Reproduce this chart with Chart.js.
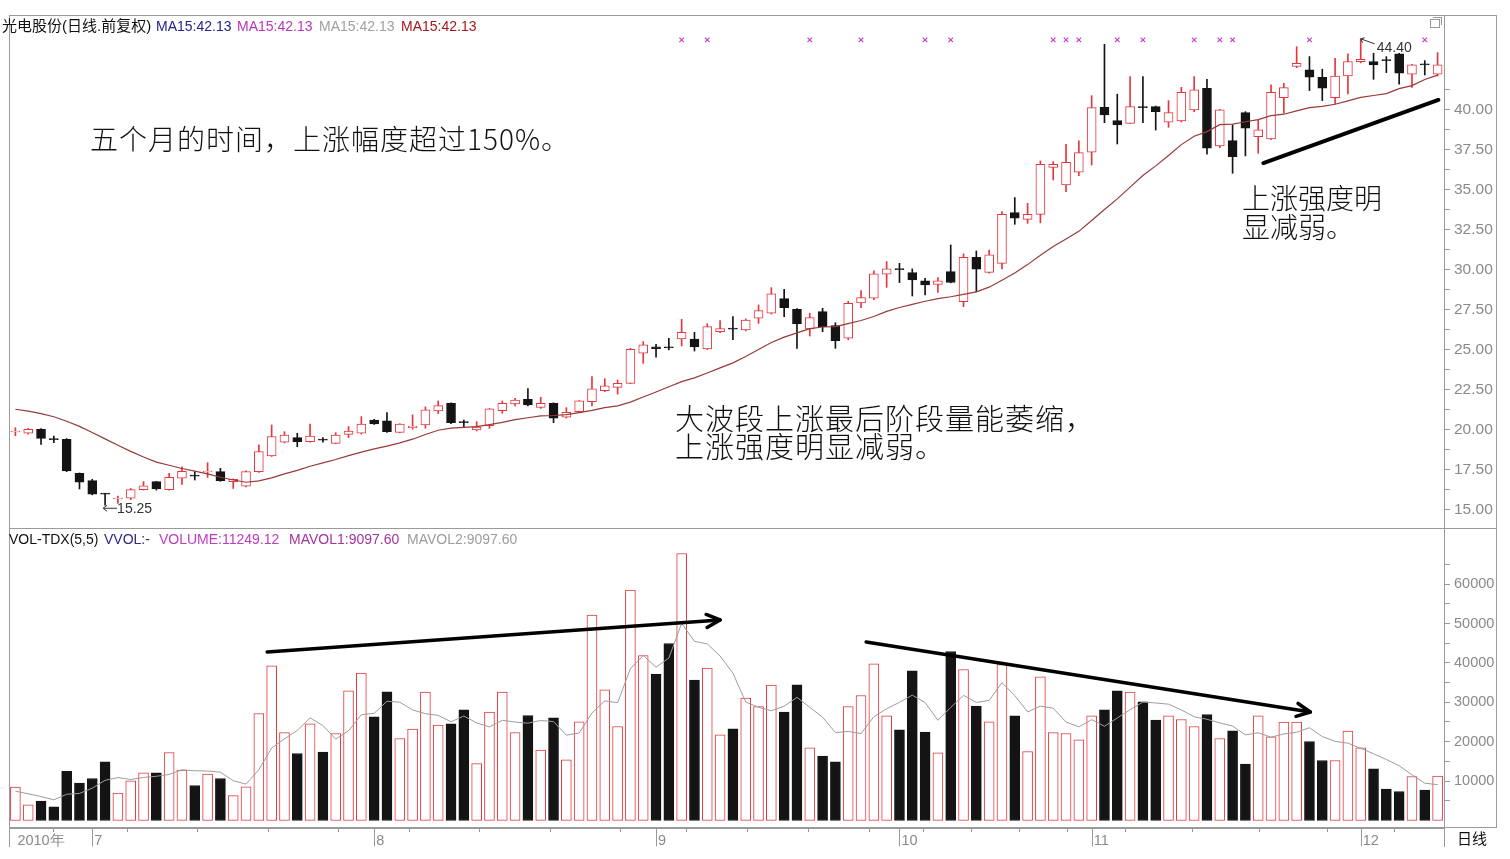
<!DOCTYPE html>
<html><head><meta charset="utf-8">
<script src="https://cdn.jsdelivr.net/npm/chart.js@4.4.1/dist/chart.umd.min.js"></script>
<style>
html,body{margin:0;padding:0;background:#fff;width:1510px;height:859px;overflow:hidden;}
#wrap{position:relative;width:1510px;height:859px;}
canvas{position:absolute;left:0;top:0;}
.t{position:absolute;white-space:nowrap;font-family:"Liberation Sans","Noto Sans CJK SC",sans-serif;}
.ln{position:absolute;background:#9a9a9a;}
.big{font-family:"Noto Sans CJK SC",sans-serif;font-weight:300;color:#111;font-size:28px;line-height:28px;}
</style></head><body>
<div id="wrap">
<div class="ln" style="left:9px;top:15px;width:1488px;height:1px"></div>
<div class="ln" style="left:9px;top:15px;width:1px;height:832px"></div>
<div class="ln" style="left:1496px;top:15px;width:1px;height:813px"></div>
<div class="ln" style="left:9px;top:528px;width:1488px;height:1px"></div>
<div class="ln" style="left:9px;top:827px;width:1488px;height:1px"></div>
<div class="ln" style="left:1444px;top:827px;width:1px;height:20px"></div>
<div style="position:absolute;left:1430px;top:19px;width:8px;height:7px;border:1px solid #999;"></div>
<div style="position:absolute;left:1433px;top:17px;width:8px;height:7px;border-top:1px solid #999;border-right:1px solid #999;"></div>
<canvas id="cp" width="1510" height="859"></canvas>
<canvas id="cv" width="1510" height="859"></canvas>
<div class="t" style="left:2px;top:17px;font-size:15px;line-height:17px;color:#111">光电股份(日线.前复权)</div>
<div class="t" style="left:156px;top:18px;font-size:14px;line-height:16px;color:#23238a">MA15:42.13</div>
<div class="t" style="left:237px;top:18px;font-size:14px;line-height:16px;color:#b835b8">MA15:42.13</div>
<div class="t" style="left:319px;top:18px;font-size:14px;line-height:16px;color:#a0a0a0">MA15:42.13</div>
<div class="t" style="left:401px;top:18px;font-size:14px;line-height:16px;color:#a3181c">MA15:42.13</div>
<div class="t" style="left:9px;top:531px;font-size:14px;line-height:16px;color:#111">VOL-TDX(5,5)</div>
<div class="t" style="left:104px;top:531px;font-size:14px;line-height:16px;color:#2a2a80">VVOL:-</div>
<div class="t" style="left:159px;top:531px;font-size:14px;line-height:16px;color:#c03cc0">VOLUME:11249.12</div>
<div class="t" style="left:289px;top:531px;font-size:14px;line-height:16px;color:#a4349e">MAVOL1:9097.60</div>
<div class="t" style="left:407px;top:531px;font-size:14px;line-height:16px;color:#9c9c9c">MAVOL2:9097.60</div>
<div class="t" style="left:1457px;top:830px;font-size:15px;line-height:17px;color:#111">日线</div>
<div class="t big" style="left:90px;top:124px;letter-spacing:1px;">五个月的时间，上涨幅度超过150%。</div>
<div class="t big" style="left:675px;top:403px;font-size:29px;letter-spacing:1px;">大波段上涨最后阶段量能萎缩，<br>上涨强度明显减弱。</div>
<div class="t big" style="left:1242px;top:183px;line-height:29px;">上涨强度明<br>显减弱。</div>
</div>
<script>
// ---------- data ----------
const open  = [19.83,19.75,20.00,19.39,19.37,17.25,16.79,15.98,15.64,15.69,16.23,16.73,16.23,16.94,17.10,17.33,17.35,16.73,16.44,17.35,
  18.33,19.19,19.48,19.23,19.35,19.12,19.68,19.75,20.58,20.52,19.80,20.10,20.27,21.14,21.62,20.45,19.96,20.23,21.17,21.58,
  21.87,21.37,21.62,20.75,21.10,21.73,22.41,22.62,22.87,24.75,25.16,25.12,25.64,25.64,25.02,26.10,26.29,26.21,26.94,27.25,
  28.16,27.50,26.27,27.35,26.48,25.69,27.90,28.19,29.69,30.02,29.79,29.27,29.06,29.85,27.98,30.75,29.81,30.37,33.54,33.12,
  33.43,36.37,35.27,36.06,37.31,40.12,39.29,39.12,40.15,40.16,39.19,39.27,39.96,41.31,37.71,38.04,39.79,38.29,38.14,40.73,
  42.67,42.46,42.00,40.73,42.08,42.98,42.98,43.08,43.46,42.19,42.80,42.19];
const high  = [20.10,20.05,20.05,19.58,19.42,17.27,16.87,16.00,15.83,16.30,16.73,16.75,17.25,17.66,17.35,17.91,17.56,16.90,17.40,19.02,
  20.27,19.85,19.75,20.33,19.48,19.79,20.17,20.79,20.62,21.04,20.35,20.90,21.40,21.77,21.65,20.58,20.48,21.30,21.77,21.94,
  22.54,22.00,21.65,21.35,21.80,23.29,23.16,23.08,25.06,25.48,25.31,25.68,26.87,26.06,26.60,26.79,27.04,26.90,27.77,28.85,
  28.75,27.55,27.25,27.56,26.66,28.00,28.66,29.90,30.48,30.37,30.02,29.44,29.48,31.52,30.96,31.14,31.20,33.60,34.48,34.12,
  36.77,36.73,37.81,38.02,40.85,44.06,40.94,42.04,42.04,40.20,40.54,41.37,42.04,41.87,40.00,39.02,39.85,39.33,41.52,41.62,
  43.91,43.29,42.50,43.18,43.46,44.40,43.50,43.29,43.50,42.80,43.04,43.54];
const low   = [19.60,19.70,19.06,19.16,17.35,16.27,15.90,15.25,15.37,15.60,16.20,16.20,16.20,16.56,16.83,16.99,16.75,16.30,16.40,17.30,
  18.30,19.15,18.91,19.20,19.19,19.10,19.48,19.70,20.30,19.80,19.78,20.00,20.06,20.98,20.35,20.16,19.90,20.06,21.00,21.46,
  21.46,21.30,20.41,20.70,21.05,21.46,22.35,22.20,22.85,24.12,24.50,24.96,25.21,24.89,24.98,26.04,25.60,26.15,26.62,27.20,
  27.04,25.06,25.83,26.10,25.06,25.60,27.60,28.10,28.87,29.17,28.33,28.40,28.56,29.15,27.66,28.60,29.75,30.02,32.81,32.87,
  32.90,35.58,34.85,35.85,36.52,39.16,37.83,39.10,39.16,38.70,38.87,39.20,39.85,37.19,37.60,36.00,37.08,37.25,38.10,39.75,
  42.60,41.17,40.54,40.33,40.96,42.90,41.87,42.29,41.56,41.37,42.14,42.08];
const close = [19.85,20.00,19.43,19.35,17.39,16.69,15.94,15.95,15.66,16.23,16.46,16.27,17.00,17.37,17.07,17.35,16.79,16.87,17.35,18.60,
  19.54,19.64,19.23,19.58,19.32,19.64,19.89,20.33,20.33,19.85,20.33,20.20,21.21,21.48,20.41,20.42,20.14,21.27,21.62,21.83,
  21.52,21.62,20.69,21.06,21.77,22.52,22.71,22.87,25.00,25.27,25.04,25.09,26.06,25.14,26.41,26.29,26.26,26.83,27.41,28.46,
  27.60,26.58,26.98,26.41,25.54,27.87,28.23,29.71,30.02,29.98,29.33,29.02,29.27,29.17,30.75,30.00,30.90,33.44,33.19,33.43,
  36.56,36.56,36.69,37.29,40.10,39.64,39.02,40.16,40.10,39.85,39.79,41.06,41.21,37.56,39.96,37.04,38.81,38.71,41.06,41.35,
  42.87,42.00,41.31,42.08,42.98,43.12,42.77,43.04,42.25,42.77,42.77,42.77];
const volume = [8460,3980,4900,3470,12500,9480,10660,14890,6940,10070,12100,12100,17260,12780,8880,11760,10660,6350,8540,27160,
  39260,22340,17000,24530,17340,22080,32910,37390,26310,32660,20810,23180,32570,24200,24530,28090,14470,27500,32570,22340,
  26650,17850,26060,15400,25040,52110,33160,23860,58460,41880,37140,44920,67770,35620,38660,21740,23270,31050,28930,34350,
  27500,34430,18440,16330,14890,28930,31730,39760,26570,23010,37990,22420,17170,42890,38320,29020,25040,39600,26570,17510,
  36460,22340,22080,20470,26570,28090,32910,32570,30120,25470,26570,25630,23860,26900,20810,22760,14300,26570,21240,24960,
  24960,20050,15230,15230,22670,18440,13110,7950,7360,11170,7700,11249];
const ma15 = [21.25,21.13,20.98,20.78,20.50,20.18,19.80,19.40,19.00,18.62,18.27,17.95,17.75,17.55,17.38,17.21,17.00,16.83,16.69,16.77,
  16.96,17.21,17.43,17.69,17.90,18.11,18.35,18.57,18.77,18.95,19.15,19.38,19.67,19.94,20.07,20.12,20.16,20.29,20.43,20.60,
  20.72,20.84,20.86,20.91,21.04,21.18,21.35,21.46,21.70,22.02,22.33,22.66,22.98,23.21,23.52,23.84,24.15,24.55,24.98,25.42,
  25.76,26.02,26.29,26.39,26.41,26.60,26.80,27.05,27.37,27.61,27.81,28.00,28.16,28.28,28.43,28.59,28.88,29.31,29.76,30.29,
  30.87,31.42,31.89,32.37,33.05,33.73,34.40,35.13,35.86,36.46,37.11,37.79,38.31,38.60,39.04,39.07,39.22,39.35,39.60,39.69,
  39.90,40.10,40.18,40.31,40.52,40.74,40.86,40.98,41.29,41.48,41.86,42.13];
const volMa5 = [7450,6770,6090,5250,6662,6866,8202,10200,10894,10408,10932,11220,11694,12862,12624,12556,12268,10086,9238,12894,
  18394,20730,22860,26058,24094,20658,22772,26850,27206,30270,30016,28070,27106,26684,25058,26514,24772,23758,25432,24994,
  24706,25382,25094,21660,22200,27292,30354,29914,38526,41894,38900,41252,50034,45466,44822,41742,37412,30068,28730,27868,
  29020,31252,28730,26210,22318,22604,22064,26328,28376,30000,31812,29950,25432,28696,31758,29964,30488,34974,31710,27548,
  29036,28496,24992,23772,25584,23910,26024,28122,30052,29832,29528,28072,26330,25686,24754,23992,21726,22268,21136,21966,
  22406,23556,21288,20086,19628,18324,16936,15480,13906,11606,9458,9098];
const markerIdx = [52,54,62,66,71,73,81,82,83,86,88,92,94,95,101,110];
const priceTicks = [15,17.5,20,22.5,25,27.5,30,32.5,35,37.5,40];
const volTicks = [10000,20000,30000,40000,50000,60000];
const monthStart = [0,6,28,50,69,84,105];
const monthLabels = ['2010年','7','8','9','10','11','12'];
// annotation anchors in data space [index, value]
const trendPrice = [[97.4,36.64],[111.06,40.58]];
const volArrowUp = [[19.65,42770],[55.0,50890]];
const volArrowDown = [[66.4,45300],[101.07,27540]];

// ---------- styling ----------
const RED = '#e2383d', BLK = '#141414', AX = '#9a9a9a', LBL = '#8a8a8a';
const FONT = '"Liberation Sans", Arial, sans-serif';
const idx = close.map((_, i) => i);
const up = close.map((c, i) => c >= open[i]);

function drawArrow(ctx, x1, y1, x2, y2, lw, head) {
  ctx.lineWidth = lw; ctx.lineCap = 'round'; ctx.lineJoin = 'round'; ctx.strokeStyle = '#000';
  ctx.beginPath(); ctx.moveTo(x1, y1); ctx.lineTo(x2, y2); ctx.stroke();
  if (head) {
    const a = Math.atan2(y2 - y1, x2 - x1), L = 15;
    ctx.beginPath();
    ctx.moveTo(x2 - L * Math.cos(a - 0.45), y2 - L * Math.sin(a - 0.45));
    ctx.lineTo(x2, y2);
    ctx.lineTo(x2 - L * Math.cos(a + 0.45), y2 - L * Math.sin(a + 0.45));
    ctx.stroke();
  }
}

const pricePlugin = {
  id: 'priceAnno',
  afterDatasetsDraw(chart) {
    const { ctx, scales: { x, y } } = chart;
    ctx.save();
    drawArrow(ctx, x.getPixelForValue(trendPrice[0][0]), y.getPixelForValue(trendPrice[0][1]),
      x.getPixelForValue(trendPrice[1][0]), y.getPixelForValue(trendPrice[1][1]), 4, false);
    const li = low.indexOf(Math.min(...low));
    const lx = x.getPixelForValue(li), ly = y.getPixelForValue(low[li]) + 3;
    ctx.strokeStyle = '#333'; ctx.lineWidth = 1; ctx.lineCap = 'butt';
    ctx.beginPath(); ctx.moveTo(lx - 2, ly); ctx.lineTo(lx + 12, ly);
    ctx.moveTo(lx + 2, ly - 3); ctx.lineTo(lx - 2, ly); ctx.lineTo(lx + 2, ly + 3); ctx.stroke();
    ctx.fillStyle = '#333'; ctx.font = '14px ' + FONT; ctx.textBaseline = 'middle'; ctx.textAlign = 'left';
    ctx.fillText(low[li].toFixed(2), lx + 12, ly + 1);
    const hi = high.indexOf(Math.max(...high));
    const hx = x.getPixelForValue(hi), hy = y.getPixelForValue(high[hi]);
    ctx.beginPath(); ctx.moveTo(hx, hy); ctx.lineTo(hx + 14, hy + 5);
    ctx.moveTo(hx + 4, hy - 1); ctx.lineTo(hx, hy); ctx.lineTo(hx + 2, hy + 4); ctx.stroke();
    ctx.fillText(high[hi].toFixed(2), hx + 16, hy + 9);
    ctx.restore();
  }
};

const volPlugin = {
  id: 'volAnno',
  afterDatasetsDraw(chart) {
    const { ctx, scales: { x, y }, chartArea } = chart;
    ctx.save();
    for (const ar of [volArrowUp, volArrowDown]) {
      drawArrow(ctx, x.getPixelForValue(ar[0][0]), y.getPixelForValue(ar[0][1]),
        x.getPixelForValue(ar[1][0]), y.getPixelForValue(ar[1][1]), 3.5, true);
    }
    ctx.strokeStyle = AX; ctx.lineWidth = 1;
    for (let k = 1; k < monthStart.length; k++) {
      const px = Math.round(x.getPixelForValue(monthStart[k])) + 0.5;
      ctx.beginPath(); ctx.moveTo(px, chartArea.bottom); ctx.lineTo(px, chartArea.bottom + 18); ctx.stroke();
    }
    ctx.restore();
  }
};

const commonX = { type: 'linear', min: -0.5, max: 111.5, offset: false, grid: { offset: false } };

new Chart(document.getElementById('cp'), {
  type: 'bar',
  data: { datasets: [
    { type: 'line', data: idx.map(i => ({ x: i, y: ma15[i] })), borderColor: '#983a3a', borderWidth: 1.2,
      pointRadius: 0, tension: 0, order: 0 },
    { type: 'line', showLine: false, data: markerIdx.map(i => ({ x: i, y: 44.33 })), pointStyle: 'crossRot',
      pointRadius: 3.2, pointBorderColor: '#c23bc2', pointBorderWidth: 1.1, order: 1 },
    { type: 'bar', data: idx.map(i => ({ x: i, y: [Math.min(open[i], close[i]), Math.max(open[i], close[i])] })),
      backgroundColor: up.map(u => u ? '#ffffff' : BLK), borderColor: up.map(u => u ? RED : BLK),
      borderWidth: 1, borderSkipped: false, barThickness: 9, minBarLength: 1, grouped: false, order: 2 },
    { type: 'bar', data: idx.map(i => ({ x: i, y: [low[i], high[i]] })),
      backgroundColor: up.map(u => u ? RED : BLK), borderWidth: 0, barThickness: 1, grouped: false, order: 3 }
  ] },
  options: {
    responsive: false, animation: false, events: [],
    layout: { padding: { top: 15, left: 9, right: 0, bottom: 331 } },
    plugins: { legend: { display: false }, tooltip: { enabled: false } },
    scales: {
      x: Object.assign({}, commonX, { display: false }),
      y: {
        position: 'right', min: 13.83, max: 45.89,
        afterFit(s) { s.width = 66; s.paddingTop = 0; s.paddingBottom = 0; },
        afterBuildTicks(s) {
          const t = [];
          for (let k = 0; k < priceTicks.length; k++) {
            t.push({ value: priceTicks[k] });
            t.push({ value: priceTicks[k] + 1.25 });
          }
          s.ticks = t;
        },
        grid: { drawOnChartArea: false, tickLength: 6, color: AX, tickColor: AX },
        border: { color: AX },
        ticks: { padding: 4, color: LBL, font: { family: FONT, size: 15.5 },
          callback: v => priceTicks.some(p => Math.abs(p - v) < 1e-6) ? v.toFixed(2) : '' }
      }
    }
  },
  plugins: [pricePlugin]
});

new Chart(document.getElementById('cv'), {
  type: 'bar',
  data: { datasets: [
    { type: 'line', data: idx.map(i => ({ x: i, y: volMa5[i] })), borderColor: '#9c9c9c', borderWidth: 1,
      pointRadius: 0, tension: 0, order: 0 },
    { type: 'bar', data: idx.map(i => ({ x: i, y: volume[i] })),
      backgroundColor: up.map(u => u ? '#ffffff' : BLK), borderColor: up.map(u => u ? RED : BLK),
      borderWidth: 1, borderSkipped: false, barThickness: 10, grouped: false, order: 1 }
  ] },
  options: {
    responsive: false, animation: false, events: [],
    layout: { padding: { top: 529, left: 9, right: 0, bottom: 0 } },
    plugins: { legend: { display: false }, tooltip: { enabled: false } },
    scales: {
      x: Object.assign({}, commonX, {
        position: 'bottom',
        afterFit(s) { s.height = 31; s.paddingLeft = 0; s.paddingRight = 0; },
        afterBuildTicks(s) {
          const t = [];
          for (let k = 0; k < monthStart.length; k++) {
            t.push({ value: monthStart[k] });
            if (k > 0 && k < monthStart.length - 1) {
              const a = monthStart[k], b = monthStart[k + 1];
              for (let q = 1; q < 4; q++) t.push({ value: a + (b - a) * q / 4 });
            }
          }
          t.sort((p, q) => p.value - q.value);
          s.ticks = t;
        },
        grid: { drawOnChartArea: false, tickLength: 4, color: AX,
          tickColor: c => (c.tick && c.tick.value === 0) ? 'rgba(0,0,0,0)' : AX },
        border: { color: AX },
        ticks: { autoSkip: false, maxRotation: 0, align: 'start', labelOffset: 2, padding: 0, color: LBL,
          font: { family: FONT, size: 14.5 },
          callback: v => { const k = monthStart.indexOf(v); return k >= 0 ? monthLabels[k] : ''; } }
      }),
      y: {
        position: 'right', min: -1904, max: 73985,
        afterFit(s) { s.width = 66; s.paddingTop = 0; s.paddingBottom = 0; },
        afterBuildTicks(s) {
          const t = [];
          for (let k = 0; k < volTicks.length; k++) {
            t.push({ value: volTicks[k] - 5000 });
            t.push({ value: volTicks[k] });
          }
          t.push({ value: 65000 });
          s.ticks = t.filter(o => o.value > 0);
        },
        grid: { drawOnChartArea: false, tickLength: 6, color: AX, tickColor: AX },
        border: { color: AX },
        ticks: { padding: 4, color: LBL, font: { family: FONT, size: 14.5 },
          callback: v => volTicks.includes(v) ? String(v) : '' }
      }
    }
  },
  plugins: [volPlugin]
});
</script>
</body></html>
